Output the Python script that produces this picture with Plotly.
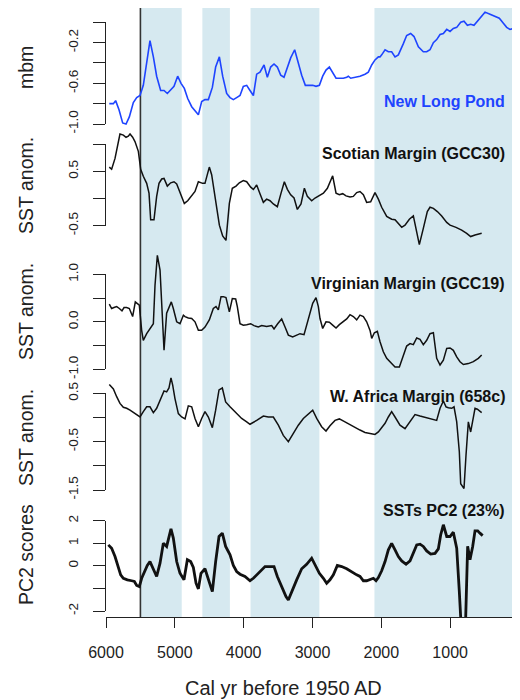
import plotly.graph_objects as go

# ---------------- data ----------------
nlp_years = [5952,5893,5860,5811,5758,5709,5661,5603,5554,5506,
             5458,5409,5361,5312,5264,5206,5157,5109,5060,5012,
             4959,4910,4862,4813,4755,4707,4658,4610,4562,4513,
             4455,4407,4353,4305,4247,4198,4150,4102,4053,4005,
             3956,3908,3859,3811,3763,3704,3656,3608,3559,3511,
             3462,3414,3365,3317,3259,3206,3157,3104,3046,2997,
             2949,2900,2852,2804,2755,2707,2658,2600,2552,2503,
             2479,2445,2382,2310,2237,2189,2140,2092,2043,2019,
             1995,1946,1898,1850,1801,1753,1680,1632,1574,1525,
             1462,1390,1341,1293,1244,1196,1147,1099,1050,1002,
             954,905,847,799,750,702,654,591,542,494,
             421,349,286,227,179,131,82,34]
nlp_mbm = [-0.80,-0.80,-0.77,-0.86,-0.99,-1.00,-0.93,-0.79,-0.74,-0.72,
           -0.62,-0.37,-0.18,-0.34,-0.53,-0.67,-0.67,-0.70,-0.66,-0.63,
           -0.53,-0.60,-0.65,-0.75,-0.83,-0.87,-0.91,-0.78,-0.76,-0.76,
           -0.64,-0.44,-0.34,-0.53,-0.70,-0.74,-0.76,-0.74,-0.72,-0.63,
           -0.62,-0.67,-0.72,-0.51,-0.49,-0.42,-0.54,-0.44,-0.41,-0.44,
           -0.52,-0.54,-0.45,-0.35,-0.27,-0.40,-0.52,-0.62,-0.62,-0.62,
           -0.63,-0.62,-0.53,-0.47,-0.44,-0.50,-0.55,-0.55,-0.55,-0.54,
           -0.53,-0.55,-0.54,-0.53,-0.51,-0.49,-0.42,-0.37,-0.34,-0.34,
           -0.32,-0.27,-0.29,-0.29,-0.34,-0.32,-0.21,-0.13,-0.11,-0.14,
           -0.24,-0.29,-0.29,-0.27,-0.20,-0.17,-0.12,-0.11,-0.07,-0.09,
           -0.06,-0.05,0.00,0.01,-0.03,-0.02,-0.03,0.02,0.06,0.10,
           0.08,0.06,0.04,-0.01,-0.05,-0.07,-0.06,-0.04]

scot_years = [5952,5918,5869,5835,5797,5748,5709,5676,5651,5613,
              5579,5530,5496,5458,5409,5375,5351,5303,5264,5230,
              5191,5157,5109,5060,5012,4973,4925,4862,4813,4765,
              4707,4658,4596,4562,4499,4465,4426,4383,4353,4305,
              4257,4208,4165,4111,4063,4005,3956,3898,3859,3811,
              3763,3714,3666,3617,3569,3511,3457,3409,3365,3317,
              3268,3220,3167,3118,3075,3012,2963,2900,2842,2784,
              2736,2707,2658,2610,2561,2513,2455,2407,2358,2310,
              2261,2213,2155,2092,2043,1995,1922,1850,1801,1753,
              1704,1656,1593,1535,1486,1448,1390,1332,1293,1244,
              1186,1123,1050,1002,915,833,760,702,639,542]
scot_sst = [0.58,0.54,0.74,0.93,1.19,1.17,1.13,1.15,1.19,1.13,
            1.05,0.87,0.54,0.41,0.28,0.10,-0.39,-0.39,0.04,0.28,
            0.36,0.37,0.23,0.29,0.31,0.27,0.10,-0.09,-0.04,0.04,
            0.13,0.31,0.28,0.28,0.58,0.44,0.07,-0.24,-0.49,-0.69,
            -0.77,-0.09,0.19,0.23,0.29,0.33,0.31,0.21,0.17,0.25,
            0.09,-0.07,-0.01,-0.04,-0.10,-0.15,0.10,0.31,0.17,0.07,
            0.01,-0.20,-0.10,0.19,0.04,-0.04,0.01,0.05,0.10,0.19,
            0.34,0.42,0.10,0.07,0.09,0.05,0.03,0.04,0.11,0.13,
            0.07,-0.07,-0.06,0.11,-0.01,-0.16,-0.33,-0.38,-0.39,-0.47,
            -0.53,-0.49,-0.38,-0.32,-0.61,-0.85,-0.55,-0.24,-0.16,-0.18,
            -0.24,-0.32,-0.44,-0.49,-0.53,-0.58,-0.64,-0.70,-0.67,-0.64]

virg_years = [5952,5918,5884,5845,5806,5768,5738,5700,5661,5613,
              5574,5545,5516,5482,5458,5409,5361,5312,5288,5254,
              5215,5186,5157,5119,5085,5051,5022,4973,4925,4876,
              4852,4804,4755,4707,4658,4610,4562,4499,4441,4402,
              4368,4329,4295,4257,4208,4165,4116,4092,4053,4005,
              3956,3898,3850,3787,3738,3666,3593,3559,3506,3448,
              3399,3351,3288,3230,3181,3123,3085,3046,2997,2949,
              2915,2891,2852,2804,2755,2707,2658,2610,2561,2503,
              2455,2407,2358,2310,2261,2213,2164,2140,2101,2058,
              2019,1971,1922,1850,1801,1738,1680,1632,1583,1535,
              1486,1438,1390,1341,1293,1244,1196,1147,1099,1050,
              1002,954,905,857,808,736,663,591,542]
virg_sst = [0.37,0.28,0.30,0.32,0.28,0.23,0.30,0.30,0.28,0.11,
            0.42,0.39,0.35,-0.18,-0.39,-0.25,-0.14,-0.04,0.77,1.40,
            1.09,0.21,-0.60,0.18,0.32,0.42,0.28,0.00,-0.04,0.14,
            0.11,0.08,0.07,0.00,-0.18,-0.18,-0.11,0.04,0.28,0.32,
            0.25,0.53,0.53,0.51,0.21,0.49,0.48,0.32,-0.04,-0.07,
            -0.06,-0.04,-0.08,-0.11,-0.08,-0.10,-0.08,-0.15,-0.04,0.06,
            -0.11,-0.28,-0.32,-0.28,-0.25,-0.27,-0.07,0.18,0.39,0.51,
            0.32,0.07,-0.14,0.00,-0.01,-0.07,-0.13,-0.06,0.00,0.06,
            0.15,0.11,0.04,0.14,0.11,0.00,-0.18,-0.35,-0.23,-0.20,
            -0.42,-0.63,-0.77,-0.88,-0.95,-0.95,-0.70,-0.51,-0.46,-0.48,
            -0.34,-0.37,-0.48,-0.39,-0.25,-0.23,-0.77,-0.91,-0.81,-0.56,
            -0.55,-0.60,-0.74,-0.84,-0.90,-0.88,-0.84,-0.77,-0.70]

wafr_years = [5952,5893,5845,5797,5748,5700,5651,5603,5554,5506,
              5458,5409,5361,5312,5264,5225,5191,5157,5119,5085,
              5056,5031,4998,4949,4901,4852,4804,4755,4707,4658,
              4610,4562,4513,4455,4407,4358,4310,4262,4198,4150,
              4092,4029,3956,3908,3811,3714,3642,3569,3496,3424,
              3351,3278,3206,3133,3060,2997,2939,2867,2804,2746,
              2673,2610,2528,2455,2382,2310,2237,2164,2092,2043,
              1995,1946,1898,1850,1801,1729,1656,1583,1511,1438,
              1365,1293,1244,1196,1147,1099,1060,1026,978,944,
              905,867,847,799,770,736,702,673,639,605,
              567,542]
wafr_sst = [0.68,0.59,0.43,0.29,0.21,0.19,0.15,0.10,0.06,0.01,
            0.12,0.22,0.22,0.10,0.19,0.32,0.45,0.55,0.53,0.61,
            0.82,0.67,0.39,0.08,0.01,-0.03,0.24,0.22,-0.02,-0.19,
            -0.02,0.12,0.01,-0.21,0.15,0.57,0.61,0.32,0.22,0.15,
            0.06,-0.02,-0.09,-0.14,-0.06,0.03,0.01,0.01,-0.16,-0.37,
            -0.50,-0.33,-0.16,-0.02,0.08,0.15,-0.02,-0.19,-0.28,-0.17,
            -0.06,-0.03,-0.09,-0.15,-0.21,-0.26,-0.31,-0.33,-0.35,-0.30,
            -0.21,-0.12,0.01,0.12,0.01,-0.16,-0.23,-0.08,0.06,0.03,
            0.00,-0.02,-0.04,-0.06,0.19,0.34,0.22,0.20,0.19,0.22,
            -0.09,-0.71,-1.37,-1.47,-0.78,-0.09,-0.30,-0.06,0.19,0.17,
            0.12,0.10]

pc2_years = [5966,5918,5869,5821,5787,5748,5690,5627,5588,5554,
             5516,5482,5443,5400,5361,5312,5264,5215,5167,5119,
             5085,5056,5022,4973,4925,4867,4818,4770,4731,4692,
             4658,4620,4562,4513,4455,4407,4358,4310,4262,4198,
             4150,4102,4053,3981,3908,3859,3811,3738,3690,3617,
             3559,3511,3448,3385,3351,3303,3230,3157,3085,3012,
             2963,2900,2842,2794,2746,2697,2639,2576,2503,2431,
             2358,2310,2261,2213,2155,2116,2077,2043,1995,1946,
             1898,1850,1801,1753,1704,1641,1583,1535,1486,1438,
             1390,1341,1283,1220,1172,1138,1099,1050,1002,954,
             905,867,838,779,746,712,673,639,600,567,
             528]
pc2_scores = [0.93,0.78,0.41,-0.03,-0.40,-0.55,-0.62,-0.66,-0.69,-0.87,
              -0.92,-0.55,-0.28,0.02,0.19,-0.18,-0.47,0.12,1.00,0.86,
              1.23,1.64,1.23,0.19,-0.33,-0.62,0.27,0.19,-0.07,-0.77,
              -1.02,-0.33,-0.13,-0.55,-1.14,0.19,1.30,1.45,0.86,0.49,
              0.02,-0.25,-0.37,-0.47,-0.66,-0.55,-0.40,-0.18,-0.03,-0.03,
              -0.03,-0.47,-0.92,-1.36,-1.51,-1.14,-0.62,-0.13,0.07,0.34,
              0.07,-0.33,-0.55,-0.77,-0.62,-0.40,0.02,-0.03,-0.13,-0.28,
              -0.40,-0.47,-0.66,-0.66,-0.58,-0.55,-0.66,-0.52,-0.22,0.19,
              0.71,1.00,0.71,0.41,0.22,0.07,0.22,0.61,0.93,0.96,
              0.86,0.66,0.52,0.55,0.75,1.37,1.82,1.30,1.30,1.49,
              0.78,-1.14,-2.8,-2.8,0.87,0.27,0.86,1.55,1.55,1.45,
              1.34]

# shaded intervals (cal yr BP) and the marked event
bands = [(5500, 4900), (4600, 4200), (3900, 2900), (2100, 0)]
event_year = 5500

x_ticks = [6000, 5000, 4000, 3000, 2000, 1000, 0]

panel_labels = ["New Long Pond", "Scotian Margin (GCC30)", "Virginian Margin (GCC19)",
                "W. Africa Margin (658c)", "SSTs PC2 (23%)"]
panel_titles = ["mbm", "SST anom.", "SST anom.", "SST anom.", "PC2 scores"]

mbm_ticks = [0.0, -0.2, -0.4, -0.6, -0.8, -1.0]
mbm_ticktext = ["", "-0.2", "", "-0.6", "", "-1.0"]
scot_ticks = [1.0, 0.5, 0.0, -0.5]
scot_ticktext = ["", "0.5", "", "-0.5"]
virg_ticks = [1.0, 0.5, 0.0, -0.5, -1.0]
virg_ticktext = ["1.0", "", "0.0", "", "-1.0"]
wafr_ticks = [0.5, 0.0, -0.5, -1.0, -1.5]
wafr_ticktext = ["0.5", "", "-0.5", "", "-1.5"]
pc2_ticks = [2, 1, 0, -1, -2]
pc2_ticktext = ["2", "1", "0", "", "-2"]

# ---------------- layout geometry (page pixels) ----------------
PAGE_OFF = 8                     # the html body margin shifts the figure by 8 px
W, H = 520 - PAGE_OFF, 700 - PAGE_OFF
PLOT_L, PLOT_R, PLOT_T, PLOT_B = 106, 519, 8, 617   # plot area in page pixels
LEFT = PLOT_L - PAGE_OFF
RIGHT_M = W - (PLOT_R - PAGE_OFF)
TOP_M = PLOT_T - PAGE_OFF
BOTTOM_M = H - (PLOT_B - PAGE_OFF)
PW = PLOT_R - PLOT_L
PH = PLOT_B - PLOT_T

def py(p):  # page pixel row -> paper y
    return (PLOT_B - p) / PH

def px(p):  # page pixel column -> paper x
    return (p - PLOT_L) / PW

# per panel: page rows of the top and bottom tick
tick_px = [(22.3, 124.0), (144.3, 225.7), (274.3, 369.3), (393.3, 490.0), (520.7, 611.0)]
title_px = [68, 186, 312, 438, 555]
label_px = [101.7, 153.3, 283.3, 396.7, 510.0]

series = [
    (nlp_years, nlp_mbm, mbm_ticks, mbm_ticktext, "#1e44ff", 1.6),
    (scot_years, scot_sst, scot_ticks, scot_ticktext, "#111111", 1.5),
    (virg_years, virg_sst, virg_ticks, virg_ticktext, "#111111", 1.5),
    (wafr_years, wafr_sst, wafr_ticks, wafr_ticktext, "#111111", 1.5),
    (pc2_years, pc2_scores, pc2_ticks, pc2_ticktext, "#111111", 2.8),
]
label_colors = ["#1e44ff", "#111111", "#111111", "#111111", "#111111"]

FONT = "Liberation Sans, Arial, Helvetica, sans-serif"

fig = go.Figure()
layout = dict(
    width=W, height=H, template="none",
    margin=dict(l=LEFT, r=RIGHT_M, t=TOP_M, b=BOTTOM_M, pad=0),
    paper_bgcolor="white", plot_bgcolor="rgba(0,0,0,0)",
    showlegend=False, font=dict(family=FONT, color="#111111"),
    xaxis=dict(range=[6000, 0], domain=[0, 1], anchor="y", showgrid=False, zeroline=False,
               showline=True, linecolor="#222222", linewidth=1.4,
               ticks="outside", ticklen=10, tickwidth=1.4, tickcolor="#222222",
               tickvals=x_ticks, ticktext=[str(v) for v in x_ticks],
               tickfont=dict(size=16, family=FONT, color="#222222"),
               ticklabelstandoff=11, ticklabeloverflow="allow", automargin=False),
)

annotations = []
n = len(series)
for i, (xs, ys, tv, tt, col, lw) in enumerate(series):
    hi, lo = max(tv), min(tv)
    p_hi, p_lo = tick_px[i]
    d0, d1 = py(p_lo), py(p_hi)
    s = (hi - lo) / (d1 - d0)
    full = [lo - d0 * s, hi + (1 - d1) * s]
    data_ax = "y" if i == 0 else f"y{i + 1}"
    data_key = "yaxis" if i == 0 else f"yaxis{i + 1}"
    disp_ax = f"y{n + i + 1}"
    disp_key = f"yaxis{n + i + 1}"
    ax = dict(range=full, visible=False, showgrid=False, zeroline=False, automargin=False)
    if i == 0:
        ax.update(domain=[0, 1], anchor="x")
    else:
        ax.update(overlaying="y", anchor="x")
    layout[data_key] = ax
    layout[disp_key] = dict(
        domain=[d0, d1], range=[lo, hi], anchor="x", showgrid=False, zeroline=False,
        showline=True, linecolor="#222222", linewidth=1.4,
        ticks="outside", ticklen=12, tickwidth=1.4, tickcolor="#222222",
        tickvals=tv, ticktext=tt, tickangle=-90,
        tickfont=dict(size=13.5, family=FONT, color="#222222"),
        ticklabelstandoff=9, automargin=False,
    )
    fig.add_trace(go.Scatter(x=xs, y=ys, xaxis="x", yaxis=data_ax, mode="lines",
                             line=dict(color=col, width=lw), hoverinfo="skip"))
    fig.add_trace(go.Scatter(x=[None], y=[None], xaxis="x", yaxis=disp_ax, mode="lines",
                             hoverinfo="skip"))
    annotations.append(dict(text=panel_titles[i], xref="paper", yref="paper",
                            x=px(26), y=py(title_px[i]), textangle=-90,
                            xanchor="center", yanchor="middle", showarrow=False,
                            font=dict(size=19.5, family=FONT, color="#222222")))
    annotations.append(dict(text=f"<b>{panel_labels[i]}</b>", xref="paper", yref="paper",
                            x=px(507), y=py(label_px[i]), xanchor="right", yanchor="middle",
                            showarrow=False,
                            font=dict(size=16, family=FONT, color=label_colors[i])))

annotations.append(dict(text="Cal yr before 1950 AD", xref="paper", yref="paper",
                        x=px(283.5), y=py(688), xanchor="center", yanchor="middle",
                        showarrow=False, font=dict(size=20, family=FONT, color="#222222")))

shapes = []
for a, b in bands:
    shapes.append(dict(type="rect", xref="x", yref="paper", x0=a, x1=b, y0=0, y1=1,
                       fillcolor="#d6e9f0", line=dict(width=0), layer="below"))
shapes.append(dict(type="line", xref="x", yref="paper", x0=event_year, x1=event_year,
                   y0=0, y1=1, line=dict(color="#333333", width=1.6), layer="below"))

layout["annotations"] = annotations
layout["shapes"] = shapes
fig.update_layout(**layout)
fig.write_html("out.html")
